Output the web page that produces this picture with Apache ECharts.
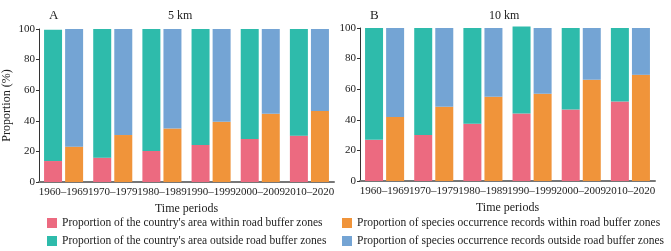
<!DOCTYPE html>
<html>
<head>
<meta charset="utf-8">
<script src="https://cdn.jsdelivr.net/npm/echarts@6/dist/echarts.min.js"></script>
<style>
html,body{margin:0;padding:0;background:#fff;}
#chart{width:671px;height:251px;}
</style>
</head>
<body>
<div id="chart"></div>
<script>
var periods = ['1960–1969', '1970–1979', '1980–1989', '1990–1999', '2000–2009', '2010–2020'];
var yTicks = [0, 20, 40, 60, 80, 100];

// panel A, 5 km
var areaIn5 = [13.7, 15.9, 20.3, 24.2, 28.1, 30.3];
var areaOut5 = [85.8, 84.1, 79.7, 75.8, 71.9, 69.7];
var recIn5 = [23.1, 30.7, 34.9, 39.4, 44.6, 46.4];
var recOut5 = [76.9, 69.3, 65.1, 60.6, 55.4, 53.6];

// panel B, 10 km
var areaIn10 = [26.9, 30.1, 37.5, 44.1, 46.7, 51.9];
var areaOut10 = [73.1, 69.9, 62.5, 56.9, 53.3, 48.1];
var recIn10 = [41.9, 48.5, 55.0, 57.0, 66.2, 69.4];
var recOut10 = [58.1, 51.5, 45.0, 43.0, 33.8, 30.6];

var names = [
    "Proportion of the country's area within road buffer zones",
    "Proportion of the country's area outside road buffer zones",
    "Proportion of species occurrence records within road buffer zones",
    "Proportion of species occurrence records outside road buffer zones"
];
var colors = ['#ec6a80', '#2ebbab', '#f0943a', '#74a4d4'];
var font = 'Liberation Serif';

var myChart = echarts.init(document.getElementById('chart'));

function xAxisFor(idx){
    return {
        type: 'category',
        gridIndex: idx,
        data: periods,
        name: 'Time periods',
        nameLocation: 'middle',
        nameGap: 21,
        nameTextStyle: {fontFamily: font, fontSize: 12, color: '#222'},
        axisLine: {lineStyle: {color: '#777', width: 2}},
        axisTick: {show: false},
        axisLabel: {interval: 0, fontFamily: font, fontSize: 11, color: '#222', margin: 5}
    };
}
function yAxisFor(idx, withName){
    return {
        type: 'value',
        gridIndex: idx,
        min: yTicks[0],
        max: yTicks[yTicks.length - 1],
        interval: 20,
        name: withName ? 'Proportion (%)' : '',
        nameLocation: 'middle',
        nameGap: 26,
        nameTextStyle: {fontFamily: font, fontSize: 12, color: '#222'},
        axisLine: {show: true, lineStyle: {color: '#333', width: 1}},
        axisTick: {show: true, length: 3, lineStyle: {color: '#333'}},
        axisLabel: {fontFamily: font, fontSize: 11, color: '#222', margin: 4},
        splitLine: {show: false}
    };
}
function bar(name, stack, data, color, g){
    return {
        name: name,
        type: 'bar',
        stack: stack + g,
        xAxisIndex: g,
        yAxisIndex: g,
        data: data,
        barWidth: 18,
        barGap: '17%',
        clip: false,
        itemStyle: {color: color}
    };
}
function legendItem(name, left, top){
    return {
        data: [name],
        left: left, top: top,
        padding: 0,
        icon: 'rect', itemWidth: 10, itemHeight: 10, itemGap: 4,
        textStyle: {fontFamily: font, fontSize: 11.5, color: '#222'}
    };
}

option = {
    animation: false,
    title: [
        {text: 'A', left: 44, top: 4, textStyle: {fontFamily: font, fontSize: 13, fontWeight: 'normal', color: '#222'}},
        {text: '5 km', left: 163, top: 5, textStyle: {fontFamily: font, fontSize: 12, fontWeight: 'normal', color: '#222'}},
        {text: 'B', left: 365, top: 4, textStyle: {fontFamily: font, fontSize: 13, fontWeight: 'normal', color: '#222'}},
        {text: '10 km', left: 484, top: 5, textStyle: {fontFamily: font, fontSize: 12, fontWeight: 'normal', color: '#222'}}
    ],
    legend: [
        legendItem(names[0], 47, 217),
        legendItem(names[1], 47, 235),
        legendItem(names[2], 342, 217),
        legendItem(names[3], 342, 235)
    ],
    grid: [
        {left: 39, top: 29, width: 295, height: 153},
        {left: 360, top: 28, width: 295, height: 153}
    ],
    xAxis: [xAxisFor(0), xAxisFor(1)],
    yAxis: [yAxisFor(0, true), yAxisFor(1, false)],
    series: [
        bar(names[0], 'area', areaIn5, colors[0], 0),
        bar(names[1], 'area', areaOut5, colors[1], 0),
        bar(names[2], 'rec', recIn5, colors[2], 0),
        bar(names[3], 'rec', recOut5, colors[3], 0),
        bar(names[0], 'area', areaIn10, colors[0], 1),
        bar(names[1], 'area', areaOut10, colors[1], 1),
        bar(names[2], 'rec', recIn10, colors[2], 1),
        bar(names[3], 'rec', recOut10, colors[3], 1)
    ]
};
myChart.setOption(option);
</script>
</body>
</html>
